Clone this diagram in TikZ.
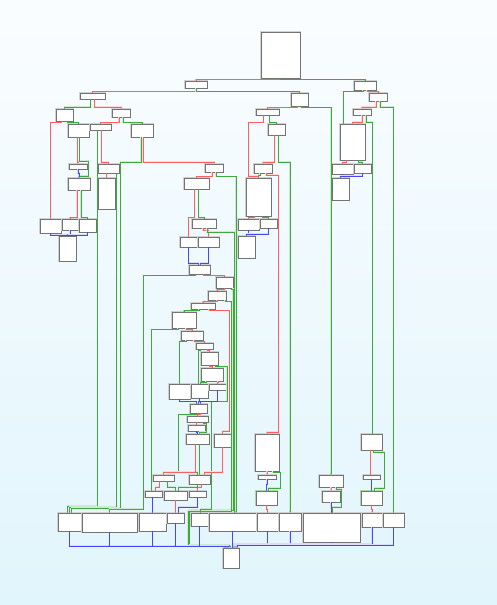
\documentclass[tikz,border=0pt]{standalone}
\usetikzlibrary{arrows.meta}
\definecolor{fallred}{RGB}{255,95,95}
\definecolor{takengreen}{RGB}{60,170,60}
\definecolor{jumpblue}{RGB}{70,70,255}
\definecolor{bgtop}{RGB}{250,253,255}
\definecolor{bgbottom}{RGB}{225,245,252}
\begin{document}
\begin{tikzpicture}[
    x=1pt, y=-1pt,
    blk/.style={draw=black!55, fill=white, line width=0.6pt, inner sep=0pt, outer sep=0pt, anchor=north west, preaction={draw=#1, line width=2pt}},
    blk/.default=black!18,
    fall/.style={-{Latex[length=1.5pt,width=1.5pt]}, line width=0.8pt, draw=fallred, preaction={draw=fallred!25, line width=1.8pt, arrows=-}},
    taken/.style={-{Latex[length=1.5pt,width=1.5pt]}, line width=0.8pt, draw=takengreen, preaction={draw=takengreen!25, line width=1.8pt, arrows=-}},
    jump/.style={-{Latex[length=1.5pt,width=1.5pt]}, line width=0.8pt, draw=jumpblue, preaction={draw=jumpblue!20, line width=1.8pt, arrows=-}}
]
\shade[top color=bgtop, bottom color=bgbottom] (0,0) rectangle (497,605);
\useasboundingbox (0,0) rectangle (497,605);

\node[blk, minimum width=39, minimum height=46] (entry) at (261,32) {};
\node[blk, minimum width=22, minimum height=7] (a1) at (185,81) {};
\node[blk, minimum width=25, minimum height=6] (a2) at (80,93) {};
\node[blk, minimum width=17, minimum height=12] (a3) at (56,109) {};
\node[blk, minimum width=18, minimum height=8] (a4) at (112,109) {};
\node[blk, minimum width=21, minimum height=13] (a5) at (68,124) {};
\node[blk, minimum width=21, minimum height=6] (a6) at (90,124) {};
\node[blk, minimum width=22, minimum height=13] (a7) at (131,124) {};
\node[blk, minimum width=18, minimum height=5] (a8) at (69,164) {};
\node[blk, minimum width=21, minimum height=9] (a9) at (98,164) {};
\node[blk, minimum width=18, minimum height=8] (a10) at (205,164) {};
\node[blk, minimum width=22, minimum height=12] (a11) at (68,178) {};
\node[blk, minimum width=17, minimum height=31] (a12) at (98,178) {};
\node[blk, minimum width=25, minimum height=11] (a13) at (184,178) {};
\node[blk, minimum width=21, minimum height=14] (a14) at (40,219) {};
\node[blk, minimum width=16, minimum height=11] (a15) at (62,219) {};
\node[blk, minimum width=17, minimum height=13] (a16) at (79,219) {};
\node[blk, minimum width=17, minimum height=25] (a17) at (59,236) {};
\node[blk, minimum width=24, minimum height=9] (a18) at (192,219) {};
\node[blk, minimum width=17, minimum height=10] (a19) at (180,237) {};
\node[blk, minimum width=21, minimum height=10] (a20) at (198,237) {};
\node[blk, minimum width=21, minimum height=9] (a21) at (189,265) {};

\node[blk, minimum width=22, minimum height=9] (b1) at (354,81) {};
\node[blk, minimum width=17, minimum height=13] (b2) at (291,93) {};
\node[blk, minimum width=18, minimum height=8] (b3) at (369,93) {};
\node[blk, minimum width=23, minimum height=6] (b4) at (256,109) {};
\node[blk, minimum width=18, minimum height=6] (b5) at (353,109) {};
\node[blk, minimum width=17, minimum height=11] (b6) at (268,124) {};
\node[blk, minimum width=25, minimum height=36] (b7) at (340,124) {};
\node[blk, minimum width=18, minimum height=9] (b8) at (254,164) {};
\node[blk, minimum width=21, minimum height=10] (b9) at (332,164) {};
\node[blk, minimum width=17, minimum height=9] (b10) at (354,164) {};
\node[blk, minimum width=25, minimum height=38] (b11) at (246,178) {};
\node[blk, minimum width=17, minimum height=22] (b12) at (332,178) {};
\node[blk, minimum width=21, minimum height=11] (b13) at (238,219) {};
\node[blk, minimum width=17, minimum height=9] (b14) at (260,219) {};
\node[blk, minimum width=17, minimum height=22] (b15) at (238,236) {};

\node[blk, minimum width=17, minimum height=11] (c2) at (216,277) {};
\node[blk, minimum width=18, minimum height=9] (c3) at (208,291) {};
\node[blk, minimum width=24, minimum height=6] (c4) at (191,303) {};
\node[blk, minimum width=24, minimum height=16] (c5) at (172,312) {};
\node[blk, minimum width=22, minimum height=9] (c6) at (181,331) {};
\node[blk, minimum width=17, minimum height=6] (c7) at (196,343) {};
\node[blk, minimum width=17, minimum height=13] (c8) at (201,352) {};
\node[blk, minimum width=22, minimum height=13] (c9) at (201,368) {};
\node[blk, minimum width=21, minimum height=15] (c10) at (169,384) {};
\node[blk, minimum width=17, minimum height=14] (c11) at (191,384) {};
\node[blk, minimum width=17, minimum height=6] (c12) at (209,384) {};
\node[blk, minimum width=17, minimum height=9] (c13) at (190,404) {};
\node[blk, minimum width=21, minimum height=6] (c14) at (187,416) {};
\node[blk, minimum width=17, minimum height=6] (c15) at (188,425) {};
\node[blk, minimum width=23, minimum height=10] (c16) at (186,434) {};
\node[blk, minimum width=17, minimum height=13] (c17) at (214,434) {};
\node[blk, minimum width=24, minimum height=37] (c18) at (255,434) {};
\node[blk, minimum width=21, minimum height=6] (c19) at (153,475) {};
\node[blk, minimum width=21, minimum height=9] (c20) at (189,475) {};
\node[blk, minimum width=18, minimum height=4] (c21) at (258,475) {};
\node[blk, minimum width=17, minimum height=6] (c22) at (145,491) {};
\node[blk, minimum width=23, minimum height=9] (c23) at (164,491) {};
\node[blk, minimum width=17, minimum height=6] (c24) at (189,491) {};
\node[blk=takengreen!45, minimum width=21, minimum height=14] (c25) at (256,491) {};

\node[blk, minimum width=21, minimum height=16] (g1) at (361,434) {};
\node[blk, minimum width=24, minimum height=12] (e1) at (319,475) {};
\node[blk, minimum width=18, minimum height=11] (e2) at (322,491) {};
\node[blk, minimum width=17, minimum height=4] (e3) at (363,475) {};
\node[blk=takengreen!45, minimum width=21, minimum height=14] (e4) at (361,491) {};

\node[blk, minimum width=23, minimum height=18] (f1) at (58,513) {};
\node[blk, minimum width=55, minimum height=19] (f2) at (82,513) {};
\node[blk, minimum width=27, minimum height=18] (f3) at (139,513) {};
\node[blk, minimum width=17, minimum height=10] (f4) at (167,513) {};
\node[blk, minimum width=17, minimum height=13] (f5) at (191,513) {};
\node[blk, minimum width=47, minimum height=18] (f6) at (209,513) {};
\node[blk, minimum width=21, minimum height=18] (f7) at (257,513) {};
\node[blk, minimum width=22, minimum height=18] (f8) at (279,513) {};
\node[blk, minimum width=57, minimum height=29] (f9) at (303,513) {};
\node[blk, minimum width=20, minimum height=14] (f10) at (362,513) {};
\node[blk, minimum width=21, minimum height=14] (f11) at (383,513) {};
\node[blk, minimum width=16, minimum height=20] (exit) at (223,548) {};

\draw[fall] (entry.south) -- ++(0,1.5) -| (a1.north);
\draw[taken] (entry.south) -- ++(0,1.5) -| (b1.north);
\draw[fall] (a1.south) -- ++(0,3.5) -| (a2.north);
\draw[taken] (a1.south) -- ++(0,3.5) -| (b2.north);
\draw[taken] ([xshift=-2pt]a2.south) -- ++(0,8) -| (a3.north);
\draw[fall] ([xshift=2pt]a2.south) -- ++(0,8) -| (a4.north);
\draw[fall] ([xshift=-3pt]a3.south) -- ++(0,1.5) -| (a14.north);
\draw[taken] ([xshift=3pt]a3.south) -- ++(0,1.5) -| (a5.north);
\draw[fall] ([xshift=-2pt]a4.south) -- ++(0,5.5) -| (a6.north);
\draw[taken] ([xshift=2pt]a4.south) -- ++(0,5.5) -| (a7.north);
\draw[fall] ([xshift=-1pt]a5.south) -- ++(0,25) -| (a8.north);
\draw[taken] ([xshift=1pt]a5.south) -- ++(0,24) -| (88.5,176) -| (a11.north);
\draw[jump] (a8.south) -- ++(0,4) -| (a11.north);
\draw[fall] ([xshift=-2pt]a11.south) -- ++(0,27.5) -| (a15.north);
\draw[taken] ([xshift=2pt]a11.south) -- ++(0,27.5) -| (a16.north);
\draw[jump] (a14.south) -- ++(0,2) -| (a17.north);
\draw[jump] (a15.south) -- ++(0,5) -| (a17.north);
\draw[jump] (a16.south) -- ++(0,3) -| (a17.north);
\draw[fall] ([xshift=1pt]a6.south) -- ++(0,32) -| (a9.north);
\draw[taken] ([xshift=-3pt]a6.south) |- ([xshift=-2pt,yshift=7pt]f1.north) -- ([xshift=-2pt]f1.north);
\draw[fall] ([xshift=-2pt]a9.south) -- ++(0,3) -| (a12.north);
\draw[taken] ([xshift=8pt]a9.south) |- ([yshift=6pt]f1.north) -- (f1.north);
\draw[taken] ([xshift=-1pt]a7.south) -- ++(0,25) -| (120.5,508) -| ([xshift=2pt]f1.north);
\draw[fall] ([xshift=1pt]a7.south) -- ++(0,25) -| (a10.north);
\draw[fall] ([xshift=-2pt]a10.south) -- ++(0,4.5) -| (a13.north);
\draw[taken] ([xshift=2pt]a10.south) -- ++(0,4.5) -| ([xshift=3.5pt]f6.north);
\draw[fall] ([xshift=-2pt]a13.south) -- ++(0,28.5) -| (a19.north);
\draw[taken] ([xshift=2pt]a13.south) -- ++(0,28.5) -| (a18.north);
\draw[fall] ([xshift=-1pt]a18.south) -- ++(0,2) -| (a20.north);
\draw[taken] ([xshift=3pt]a18.south) -- ++(0,4) -| ([xshift=2pt]f6.north);
\draw[jump] (a19.south) -- ++(0,16) -| ([xshift=-1pt]a21.north);
\draw[jump] (a20.south) -- ++(0,16) -| ([xshift=1pt]a21.north);
\draw[taken] ([xshift=-4pt]a21.south) -- ++(0,1.5) -| (143.5,509) -| (f2.north);
\draw[fall] ([xshift=4pt]a21.south) -- ++(0,1.5) -| (c2.north);

\draw[fall] (c2.south) -- ++(0,1.5) -| (c3.north);
\draw[taken] ([xshift=7pt]c2.south) -- ++(0,1) -| (233,510) -| (189.5,546) -| ([xshift=-1pt]exit.north);
\draw[fall] (c3.south) -- ++(0,1.5) -| (c4.north);
\draw[taken] ([xshift=8pt]c3.south) -- ++(0,1.5) -| (231.5,511) -| (188,545) -| ([xshift=-2pt]exit.north);
\draw[taken] ([xshift=-4pt]c4.south) -- ++(0,1.5) -| (c5.north);
\draw[fall] ([xshift=6pt]c4.south) -- ++(0,1.5) -| (229.5,431) -| (c17.north);
\draw[fall] ([xshift=2pt]c5.south) -- ++(0,1.5) -| (c6.north);
\draw[taken] ([xshift=-6pt]c5.south) -- ++(0,1.5) -| ([xshift=-2pt]c22.north);
\draw[fall] ([xshift=2pt]c6.south) -- ++(0,1.5) -| (c7.north);
\draw[taken] ([xshift=-6pt]c6.south) -- ++(0,1.5) -| (c10.north);
\draw[fall] ([xshift=3pt]c7.south) -- ++(0,1.5) -| (c8.north);
\draw[taken] ([xshift=-4pt]c7.south) -- ++(0,1.5) -| ([xshift=-1pt]c11.north);
\draw[fall] (c8.south) -- ++(0,1.5) -| (c9.north);
\draw[taken] ([xshift=6pt]c8.south) -- ++(0,1.5) -| (227,401.5) -| (211.5,509) -| ([xshift=1pt]f5.north);
\draw[fall] ([xshift=6pt]c9.south) -- ++(0,1.5) -| (c12.north);
\draw[taken] ([xshift=-6pt]c9.south) -- ++(0,1.5) -| ([xshift=1pt]c11.north);
\draw[jump] (c10.south) -- ++(0,2.5) -| ([xshift=-2pt]c13.north);
\draw[jump] (c11.south) -- ++(0,3.5) -| (c13.north);
\draw[jump] (c12.south) -- ++(0,11.5) -| ([xshift=2pt]c13.north);
\draw[fall] ([xshift=2pt]c13.south) -- ++(0,1.5) -| (c14.north);
\draw[taken] ([xshift=-2pt]c13.south) -- ++(0,1.5) -| (178.5,472) -| ([xshift=-2pt]c20.north);
\draw[fall] ([xshift=-1pt]c14.south) -- ++(0,1.5) -| (c15.north);
\draw[taken] ([xshift=6pt]c14.south) -- ++(0,1.5) -| (206.5,432) -| ([xshift=2pt]c16.north);
\draw[jump] (c15.south) -- ++(0,1.5) -| (c16.north);
\draw[fall] ([xshift=-2pt]c16.south) -- ++(0,28) -| (c19.north);
\draw[taken] ([xshift=2pt]c16.south) -- ++(0,28) -| (c20.north);
\draw[fall] (c17.south) -- ++(0,25) -| ([xshift=5pt]c20.north);
\draw[fall] ([xshift=-4pt]c19.south) -- ++(0,6) -| ([xshift=2pt]c22.north);
\draw[taken] ([xshift=4pt]c19.south) -- ++(0,6) -| (c23.north);
\draw[fall] ([xshift=2pt]c20.south) -- ++(0,3) -| (c24.north);
\draw[taken] ([xshift=-2pt]c20.south) -- ++(0,3) -| ([xshift=3pt]c23.north);
\draw[jump] ([xshift=-1pt]c22.south) -- ++(0,8) -| (f3.north);
\draw[fall] (c23.south) -- ++(0,6) -| (f4.north);
\draw[jump] (c24.south) -- ++(0,10) -| ([xshift=3pt]f4.north);

\draw[fall] ([xshift=2pt]b1.south) -- ++(0,1.5) -| (b3.north);
\draw[taken] ([xshift=-2pt]b1.south) -- ++(0,1.5) -| ([xshift=-9pt]b7.north);
\draw[fall] ([xshift=-2pt]b3.south) -- ++(0,6) -| (b5.north);
\draw[taken] ([xshift=2pt]b3.south) -- ++(0,6) -| (f11.north);
\draw[fall] (b5.south) -- ++(0,7) -| (b7.north);
\draw[taken] ([xshift=4pt]b5.south) -- ++(0,7) -| ([xshift=1pt]g1.north);
\draw[fall] ([xshift=-6pt]b7.south) -- ++(0,2) -| (b9.north);
\draw[taken] ([xshift=6pt]b7.south) -- ++(0,2) -| (b10.north);
\draw[jump] (b9.south) -- ++(0,2) -| (b12.north);
\draw[jump] (b10.south) -- ++(0,3) -| (b12.north);
\draw[fall] ([xshift=-2pt]b2.south) -- ++(0,1.5) -| (b4.north);
\draw[taken] ([xshift=2pt]b2.south) -- ++(0,1.5) -| (e1.north);
\draw[fall] ([xshift=-4pt]b4.south) -- ++(0,7.5) -| (248.5,176) -| (b11.north);
\draw[taken] ([xshift=2pt]b4.south) -- ++(0,7.5) -| (b6.north);
\draw[fall] ([xshift=-2pt]b6.south) -- ++(0,27) -| (b8.north);
\draw[taken] ([xshift=2pt]b6.south) -- ++(0,27) -| (f8.north);
\draw[taken] ([xshift=-3pt]b8.south) -- ++(0,2) -| (b11.north);
\draw[fall] ([xshift=3pt]b8.south) -- ++(0,2) -| (278.5,432) -| (c18.north);
\draw[fall] ([xshift=-4pt]b11.south) -- ++(0,1.5) -| (b13.north);
\draw[taken] ([xshift=4pt]b11.south) -- ++(0,1.5) -| (b14.north);
\draw[jump] (b13.south) -- ++(0,4) -| (b15.north);
\draw[jump] (b14.south) -- ++(0,6) -| (b15.north);

\draw[fall] (c18.south) -- ++(0,1.5) -| (c21.north);
\draw[taken] ([xshift=6pt]c18.south) -- ++(0,1.5) -| (280.5,488) -| ([xshift=2pt]c25.north);
\draw[jump] (c21.south) -- ++(0,5) -| (c25.north);
\draw[fall] (c25.south) -- ++(0,4) -| (f7.north);
\draw[fall] ([xshift=-1pt]g1.south) -- ++(0,12) -| ([xshift=-1pt]e3.north);
\draw[taken] ([xshift=2pt]g1.south) -- ++(0,2) -| (384.5,488) -| ([xshift=3pt]e4.north);
\draw[jump] (e3.south) -- ++(0,5) -| (e4.north);
\draw[fall] (e4.south) -- ++(0,4) -| (f10.north);
\draw[fall] (e1.south) -- ++(0,2) -| (e2.north);
\draw[taken] ([xshift=5pt]e1.south) -- ++(0,2) -| (341.5,507) -| ([xshift=1pt]f9.north);
\draw[jump] (e2.south) -- ++(0,5) -| (f9.north);

\draw[jump] (f1.south) -- ++(0,15) -| ([xshift=-6pt]exit.north);
\draw[jump] (f2.south) -- ++(0,14) -| ([xshift=-5pt]exit.north);
\draw[jump] (f3.south) -- ++(0,15) -| ([xshift=-4pt]exit.north);
\draw[jump] (f4.south) -- ++(0,23) -| ([xshift=-3pt]exit.north);
\draw[jump] (f5.south) -- ++(0,20) -| ([xshift=-3pt]exit.north);
\draw[jump] (f6.south) -- ++(0,13) -| ([xshift=1.5pt]exit.north);
\draw[jump] (f7.south) -- ++(0,13) -| ([xshift=3pt]exit.north);
\draw[jump] (f8.south) -- ++(0,13) -| ([xshift=3pt]exit.north);
\draw[jump] (f9.south) -- ++(0,2) -| ([xshift=4pt]exit.north);
\draw[jump] (f10.south) -- ++(0,17) -| ([xshift=5pt]exit.north);
\draw[jump] (f11.south) -- ++(0,18) -| ([xshift=6pt]exit.north);
\end{tikzpicture}
\end{document}
